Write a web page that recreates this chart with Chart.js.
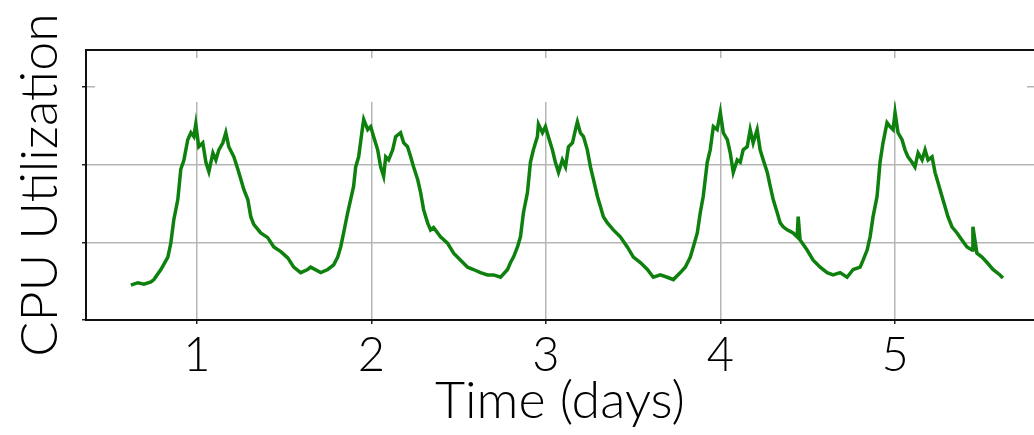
<!DOCTYPE html>
<html>
<head>
<meta charset="utf-8">
<script src="https://cdn.jsdelivr.net/npm/chart.js@4"></script>
<style>
  html, body { margin: 0; padding: 0; background: #fff; }
  #wrap { width: 1034px; height: 435px; }
</style>
</head>
<body>
<div id="wrap"><canvas id="c" width="1034" height="435"></canvas></div>
<script>
// Time of each sample (days)
const timeDays = [
  0.622,0.662,0.697,0.737,0.754,0.794,0.834,0.851,0.868,0.891,0.908,0.926,0.948,0.966,0.983,0.994,
  1.011,1.034,1.052,1.069,1.092,1.109,1.126,1.149,1.166,1.183,1.212,1.235,1.252,1.269,1.292,1.309,
  1.326,1.366,1.406,1.441,1.481,1.521,1.555,1.595,1.635,1.652,1.710,1.750,1.784,1.807,1.824,1.841,
  1.864,1.881,1.898,1.910,1.927,1.950,1.956,1.979,1.996,
  2.013,2.036,2.053,2.070,2.082,2.099,2.122,2.139,2.167,2.185,2.207,2.225,2.242,2.265,2.282,2.299,
  2.322,2.339,2.356,2.396,2.436,2.471,2.511,2.551,2.585,2.625,2.665,2.700,2.740,2.780,2.797,2.814,
  2.837,2.854,2.871,2.894,2.911,2.928,2.951,2.957,2.980,2.997,
  3.014,3.037,3.054,3.072,3.094,3.112,3.129,3.152,3.169,3.180,3.197,3.215,3.237,3.255,3.272,3.295,
  3.312,3.329,3.352,3.386,3.426,3.466,3.501,3.541,3.581,3.615,3.655,3.695,3.730,3.770,3.798,3.827,
  3.844,3.867,3.884,3.901,3.924,3.941,3.959,3.981,3.999,
  4.016,4.039,4.056,4.073,4.096,4.113,4.130,4.153,4.170,4.187,4.210,4.227,4.245,4.268,4.285,4.302,
  4.325,4.342,4.359,4.382,4.416,4.439,4.445,4.456,4.496,4.531,4.571,4.611,4.645,4.685,4.725,4.760,
  4.800,4.817,4.840,4.857,4.874,4.897,4.914,4.931,4.954,4.971,4.989,
  5.000,5.017,5.040,5.057,5.074,5.097,5.114,5.132,5.155,5.172,5.189,5.212,5.229,5.246,5.269,5.286,
  5.303,5.326,5.355,5.383,5.412,5.441,5.446,5.469,5.498,5.527,5.561,5.601,5.618
];
// CPU utilization at each sample (arbitrary units)
const cpuUtil = [
  4.5,4.8,4.6,4.9,5.2,6.5,8.1,9.9,12.9,15.5,19.4,20.6,23.2,24.1,23.6,25.2,
  22.3,22.8,20.3,19.1,21.5,20.6,21.9,22.8,24.1,22.3,21.0,19.4,18.1,16.8,15.5,13.3,
  12.3,11.2,10.6,9.4,8.8,8.0,6.8,6.1,6.5,6.8,6.1,6.5,7.1,8.1,9.4,11.2,
  13.8,15.5,17.2,19.7,21.0,24.9,25.8,24.5,24.9,
  23.6,21.9,19.7,18.5,21.0,20.6,21.9,23.6,24.1,22.8,22.3,21.0,19.7,18.1,16.4,14.2,
  12.5,11.6,11.9,10.7,9.9,8.6,7.7,6.8,6.5,6.1,5.8,5.8,5.5,6.5,7.4,8.1,
  9.4,10.7,13.8,16.4,20.3,21.9,23.6,25.2,24.1,24.9,
  23.6,21.9,20.3,19.0,20.6,19.7,22.3,22.8,24.5,25.5,24.1,23.6,21.9,19.7,18.1,15.9,
  14.6,13.3,12.5,11.6,10.7,9.4,8.1,7.4,6.5,5.5,5.8,5.5,5.2,6.1,6.8,8.1,
  9.4,11.2,13.8,15.9,20.3,21.9,24.9,24.5,26.7,
  24.1,23.2,21.5,19.0,20.6,20.3,21.9,22.3,24.5,22.8,24.5,21.9,20.6,19.0,17.2,15.5,
  13.8,12.5,12.0,11.6,11.2,10.7,13.3,10.3,9.0,7.7,6.8,6.1,5.8,6.1,5.5,6.5,
  6.8,7.7,9.0,10.7,13.3,15.9,20.3,22.8,25.4,24.9,24.5,
  26.7,24.1,23.2,21.9,21.0,20.3,19.7,21.5,20.6,21.9,20.6,21.0,19.0,17.7,15.9,14.6,
  13.3,12.0,11.2,10.3,9.4,9.0,12.0,8.6,8.1,7.4,6.5,5.8,5.4
];
const xTickValues = [1, 2, 3, 4, 5];
const yTickValues = [0, 10, 20, 30];
const xRange = [0.365, 5.796];
const yRange = [0, 34.75];
const xTitle = 'Time (days)';
const yTitle = 'CPU Utilization';

const FONT = 'Lato, "Open Sans", sans-serif';

const framePlugin = {
  id: 'frame',
  beforeDatasetsDraw(chart) {
    const {ctx, chartArea: a} = chart;
    ctx.save();
    // blank band near the top of the plot (as in the original figure)
    ctx.fillStyle = '#ffffff';
    ctx.fillRect(a.left + 9, a.top + 8, a.right - a.left - 16, 44);
    ctx.restore();
  },
  afterDraw(chart) {
    const {ctx, chartArea: a} = chart;
    ctx.save();
    ctx.strokeStyle = '#111';
    ctx.lineWidth = 2;
    ctx.beginPath();
    ctx.moveTo(a.left - 1, a.top);
    ctx.lineTo(a.right + 2, a.top);
    ctx.stroke();
    ctx.restore();
  }
};

new Chart(document.getElementById('c'), {
  type: 'line',
  data: {
    datasets: [{
      data: timeDays.map((t, i) => ({x: t, y: cpuUtil[i]})),
      borderColor: '#0e800e',
      borderWidth: 3.5,
      borderJoinStyle: 'miter',
      pointRadius: 0,
      tension: 0,
      fill: false
    }]
  },
  options: {
    responsive: false,
    animation: false,
    devicePixelRatio: 1,
    layout: { padding: { top: 50, right: 0, left: 0, bottom: 0 } },
    plugins: { legend: { display: false }, tooltip: { enabled: false } },
    scales: {
      x: {
        type: 'linear',
        min: xRange[0], max: xRange[1],
        afterFit(s) { s.height = 115; },
        afterBuildTicks(s) { s.ticks = xTickValues.map(v => ({value: v})); },
        ticks: {
          includeBounds: false,
          autoSkip: false,
          maxRotation: 0,
          padding: 4,
          color: '#000',
          font: { family: FONT, size: 47, weight: 300 },
          callback: v => String(v)
        },
        grid: { color: '#b5b5b5', lineWidth: 1.5, tickColor: '#222', tickLength: 4, drawTicks: true },
        border: { color: '#111', width: 2 },
        title: {
          display: true, text: xTitle, color: '#000',
          font: { family: FONT, size: 52, weight: 300 },
          padding: { top: 0, bottom: 3 }
        }
      },
      y: {
        type: 'linear',
        min: yRange[0], max: yRange[1],
        afterFit(s) { s.width = 86; },
        afterBuildTicks(s) { s.ticks = yTickValues.map(v => ({value: v})); },
        ticks: { display: false, includeBounds: false },
        grid: { color: '#b5b5b5', lineWidth: 1.5, tickColor: '#222', tickLength: 4, drawTicks: true },
        border: { color: '#111', width: 2 },
        title: {
          display: true, text: yTitle, color: '#000',
          font: { family: FONT, size: 52, weight: 300 },
          padding: { top: 9, bottom: 0 }
        }
      }
    }
  },
  plugins: [framePlugin]
});
</script>
</body>
</html>
